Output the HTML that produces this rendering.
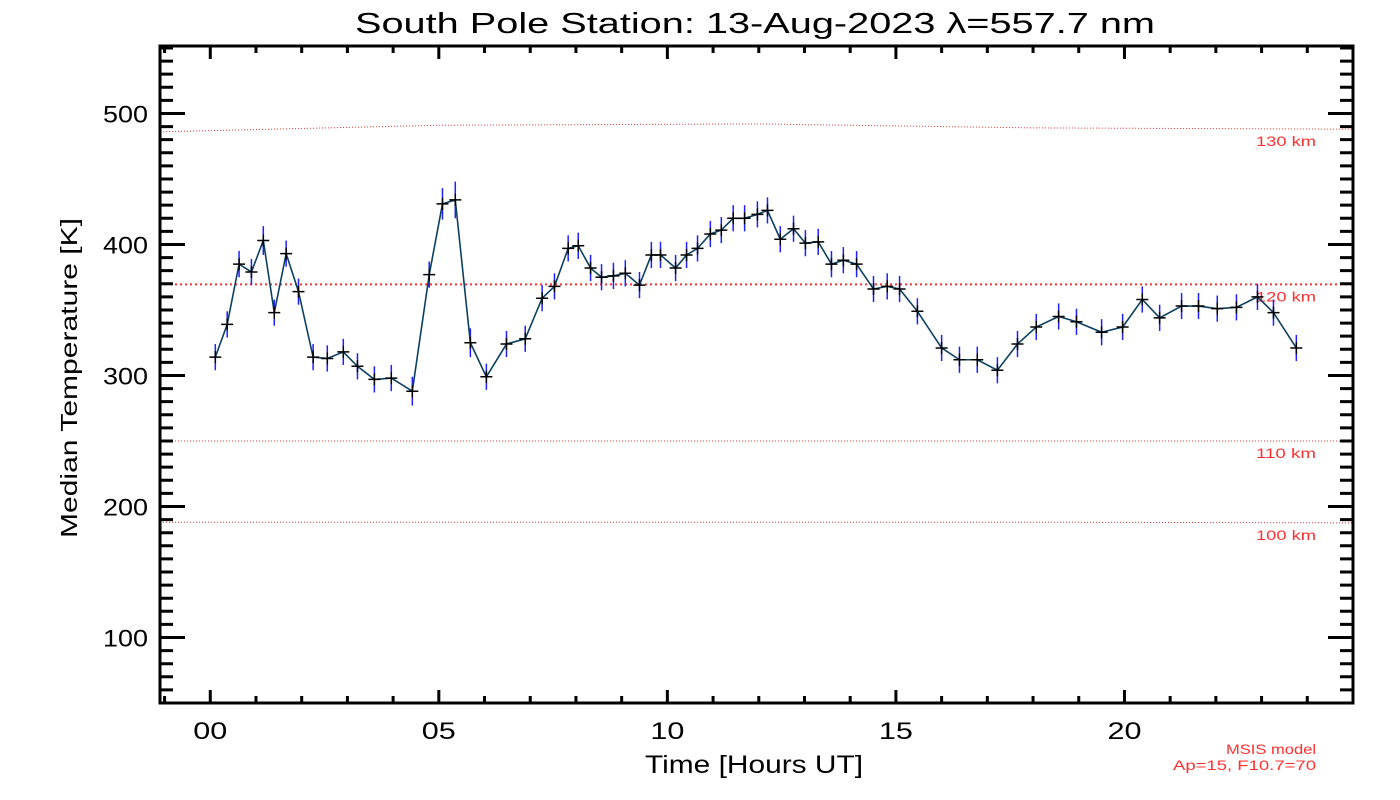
<!DOCTYPE html>
<html><head><meta charset="utf-8"><style>
html,body{margin:0;padding:0;background:#fff;}
svg{display:block;font-family:"Liberation Sans","DejaVu Sans",sans-serif;}
</style></head><body>
<svg id="chart" width="1400" height="800" viewBox="0 0 1400 800" xmlns="http://www.w3.org/2000/svg">
<rect width="1400" height="800" fill="#fff"/>
<text x="355" y="33" font-size="29" textLength="800" lengthAdjust="spacingAndGlyphs" fill="#000">South Pole Station: 13-Aug-2023 λ=557.7 nm</text>
<text x="645" y="773" font-size="25" textLength="218" lengthAdjust="spacingAndGlyphs" fill="#000">Time [Hours UT]</text>
<text x="77" y="538" font-size="23" textLength="320" lengthAdjust="spacingAndGlyphs" fill="#000" transform="rotate(-90 77 538)">Median Temperature [K]</text>
<text x="1226" y="754" font-size="14" textLength="90" lengthAdjust="spacingAndGlyphs" fill="#ff3030">MSIS model</text>
<text x="1173" y="770" font-size="14" textLength="143" lengthAdjust="spacingAndGlyphs" fill="#ff3030">Ap=15, F10.7=70</text>
<g id="layer"></g>
</svg>
<script>
const hours=[0.11,0.37,0.63,0.90,1.16,1.40,1.66,1.93,2.25,2.56,2.91,3.22,3.59,3.96,4.42,4.79,5.08,5.36,5.69,6.04,6.48,6.89,7.26,7.53,7.83,8.05,8.32,8.56,8.82,9.08,9.39,9.65,9.85,10.18,10.42,10.66,10.94,11.18,11.44,11.69,11.97,12.19,12.47,12.76,13.02,13.30,13.59,13.85,14.14,14.51,14.81,15.08,15.47,16.00,16.39,16.78,17.22,17.66,18.07,18.56,18.95,19.50,19.96,20.39,20.77,21.25,21.62,22.03,22.45,22.91,23.26,23.76];
const temps=[314,339,385,379,403,348,393,364,314,313,318,307,297,298,288,377,431,434,325,299,324,328,359,368,397,399,382,375,376,378,369,392,392,382,392,397,408,411,420,420,423,426,404,412,401,402,385,388,385,366,368,366,349,321,312,312,304,324,337,345,341,333,337,358,344,353,353,351,352,360,348,321];
const errs=[10,10,10,10,11,10,10,10,10,10,10,10,10,10,11,10,12,14,11,10,10,10,10,10,10,10,10,10,10,10,10,10,10,10,10,10,10,10,10,10,10,10,10,10,10,10,10,10,10,10,10,10,10,10,10,10,10,10,10,10,10,10,10,10,10,10,10,10,10,10,10,10];
const msisLabels=["130 km","120 km","110 km","100 km"];
const msisHours=[-1.1,5,12,18,25];
const msis130=[486,491,492,489,488];
const msis120=[369.5,369.5,369.5,369.5,369.5];
const msis110=[250,250,250,250,250];
const msis100=[188,188,188,188,187.5];
const xTicks=[0,5,10,15,20];
const xTickLabels=["00","05","10","15","20"];
const yTicks=[100,200,300,400,500];

const L=160,R=1353,T=46,B=703;
const X0=-1.1,X1=25,Y0=50,Y1=551.5;
const sx=h=>L+(h-X0)/(X1-X0)*(R-L);
const sy=v=>B-(v-Y0)/(Y1-Y0)*(B-T);
const NS="http://www.w3.org/2000/svg";
const g=document.getElementById('layer');
function mk(tag,attrs){const e=document.createElementNS(NS,tag);for(const k in attrs)e.setAttribute(k,attrs[k]);g.appendChild(e);return e;}

const msisSets=[msis130,msis120,msis110,msis100];
msisSets.forEach((s,i)=>{
  const p=mk('polyline',{points:s.map((v,j)=>sx(msisHours[j])+','+sy(v)).join(' '),fill:'none',stroke:'#ff3030','stroke-width':i==1?2:1,'stroke-dasharray':i==1?'2,3':'1,2'});
  
  
  const t=mk('text',{x:1256,y:sy(s[s.length-1])+17,'font-size':14,fill:'#ff3030',textLength:60,lengthAdjust:'spacingAndGlyphs'});
  t.textContent=msisLabels[i];
  
  
});

hours.forEach((h,i)=>{
  const e=mk('line',{x1:sx(h),x2:sx(h),y1:sy(temps[i]+errs[i]),y2:sy(temps[i]-errs[i]),stroke:'#2020ff','stroke-width':1.5});
  
  
});
const ln=mk('polyline',{points:hours.map((h,i)=>sx(h)+','+sy(temps[i])).join(' '),fill:'none',stroke:'#0d4060','stroke-width':1.6});


hours.forEach((h,i)=>{
  const x=sx(h),y=sy(temps[i]);
  const p=mk('path',{d:`M${x-6},${y}H${x+6}M${x},${y-6}V${y+6}`,stroke:'#000','stroke-width':1.5});
  
  
});

const fr=mk('rect',{x:L,y:T,width:R-L,height:B-T,fill:'none',stroke:'#000','stroke-width':3});


let d='';
for(let v=60;v<=550;v+=10){
  const y=sy(v);const major=v%100==0;const len=major?25:13;
  d+=`M${L},${y}H${L+len}M${R},${y}H${R-len}`;
}
for(let h=-1;h<=24;h+=1){
  const x=sx(h);const major=h%5==0;const len=major?13:7;
  d+=`M${x},${B}V${B-len}M${x},${T}V${T+len}`;
}
const tk=mk('path',{d:d,stroke:'#000','stroke-width':3});


yTicks.forEach(v=>{
  const t=mk('text',{x:103,y:sy(v)+9,'font-size':24,fill:'#000',textLength:String(v).length*15,lengthAdjust:'spacingAndGlyphs'});
  t.textContent=String(v);
  
  
});
xTicks.forEach((h,i)=>{
  const t=mk('text',{x:sx(h)-17,y:739,'font-size':24,fill:'#000',textLength:34,lengthAdjust:'spacingAndGlyphs'});
  t.textContent=xTickLabels[i];
  
  
});
</script>
</body></html>
